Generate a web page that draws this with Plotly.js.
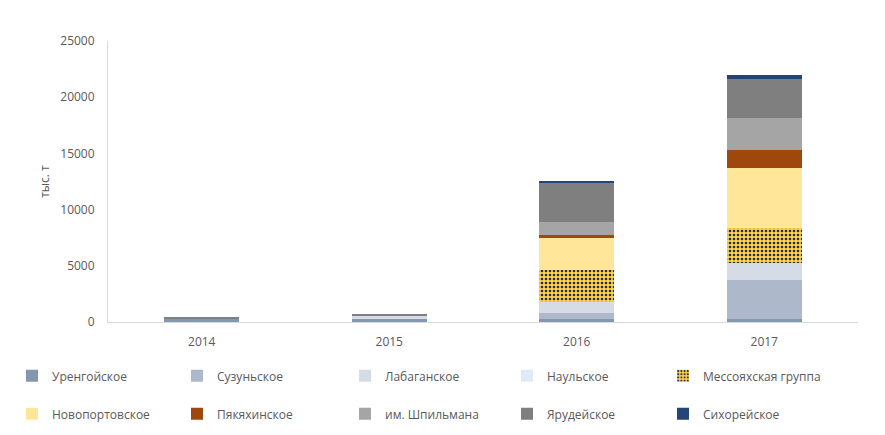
<!DOCTYPE html>
<html>
<head>
<meta charset="utf-8">
<script src="https://cdn.plot.ly/plotly-3.0.1.min.js"></script>
<style>html,body{margin:0;padding:0;background:#fff;}#chart{width:885px;height:435px;}</style>
</head>
<body>
<div id="chart"></div>
<script>
const years = ['2014', '2015', '2016', '2017'];
const seriesNames = ['Уренгойское', 'Сузуньское', 'Лабаганское', 'Наульское', 'Мессояхская группа',
  'Новопортовское', 'Пякяхинское', 'им. Шпильмана', 'Ярудейское', 'Сихорейское'];
const urengoy   = [300, 300, 270, 300];
const suzun     = [0, 0, 530, 3450];
const labagan   = [0, 260, 950, 1490];
const naul      = [0, 0, 0, 0];
const messo     = [0, 0, 2880, 3080];
const novoport  = [0, 0, 2850, 5400];
const pyakha    = [0, 0, 270, 1600];
const shpilman  = [0, 0, 1160, 2850];
const yaruday   = [80, 150, 3470, 3470];
const sikhorey  = [0, 0, 180, 360];

const allValues = [urengoy, suzun, labagan, naul, messo, novoport, pyakha, shpilman, yaruday, sikhorey];
const colors = ['#8497B0', '#ADB9CA', '#D6DCE5', '#DEEBF7', '#FFD966', '#FFE699', '#9E480E', '#A5A5A5', '#7F7F7F', '#264478'];

const FONT = "'Open Sans', sans-serif";
const legendNames = ['legend', 'legend2', 'legend3', 'legend4', 'legend5'];
const legendX = [-0.128, 0.092, 0.316, 0.532, 0.74];

const traces = allValues.map((vals, i) => {
  const marker = {color: colors[i], line: {width: 0}};
  if (i === 4) {
    marker.pattern = {shape: '.', fgcolor: '#1F2A44', bgcolor: '#FFD24D', size: 4, solidity: 0.35, fillmode: 'replace'};
  }
  return {
    type: 'bar',
    name: seriesNames[i],
    x: years,
    y: vals,
    marker: marker,
    legend: legendNames[i % 5],
    legendgroup: 'g' + i,
    hoverinfo: 'name+y'
  };
});

const layout = {
  width: 885,
  height: 435,
  margin: {l: 108, r: 27, t: 41, b: 113, autoexpand: false},
  paper_bgcolor: '#ffffff',
  plot_bgcolor: '#ffffff',
  barmode: 'stack',
  bargap: 0.6,
  font: {family: FONT, size: 12, color: '#595959'},
  xaxis: {
    type: 'category',
    showgrid: false,
    showline: true,
    linecolor: '#D9D9D9',
    linewidth: 1,
    ticks: '',
    ticklabelstandoff: 9,
    tickfont: {family: FONT, size: 12, color: '#595959'},
    fixedrange: true
  },
  yaxis: {
    range: [0, 25000],
    dtick: 5000,
    tick0: 0,
    tickformat: 'd',
    showgrid: false,
    zeroline: false,
    showline: true,
    linecolor: '#D9D9D9',
    linewidth: 1,
    ticks: '',
    ticklen: 0,
    ticklabelstandoff: 10,
    tickfont: {family: FONT, size: 12, color: '#595959'},
    title: {text: 'тыс. т', font: {family: FONT, size: 12, color: '#595959'}, standoff: 8},
    fixedrange: true
  },
  showlegend: true
};

legendNames.forEach((ln, k) => {
  layout[ln] = {
    orientation: 'v',
    xanchor: 'left',
    yanchor: 'top',
    x: legendX[k],
    y: -0.14,
    traceorder: 'grouped',
    tracegroupgap: 19,
    font: {family: FONT, size: 12, color: '#595959'},
    bgcolor: 'rgba(0,0,0,0)',
    itemclick: false,
    itemdoubleclick: false
  };
});

Plotly.newPlot('chart', traces, layout, {displayModeBar: false});
</script>
</body>
</html>
